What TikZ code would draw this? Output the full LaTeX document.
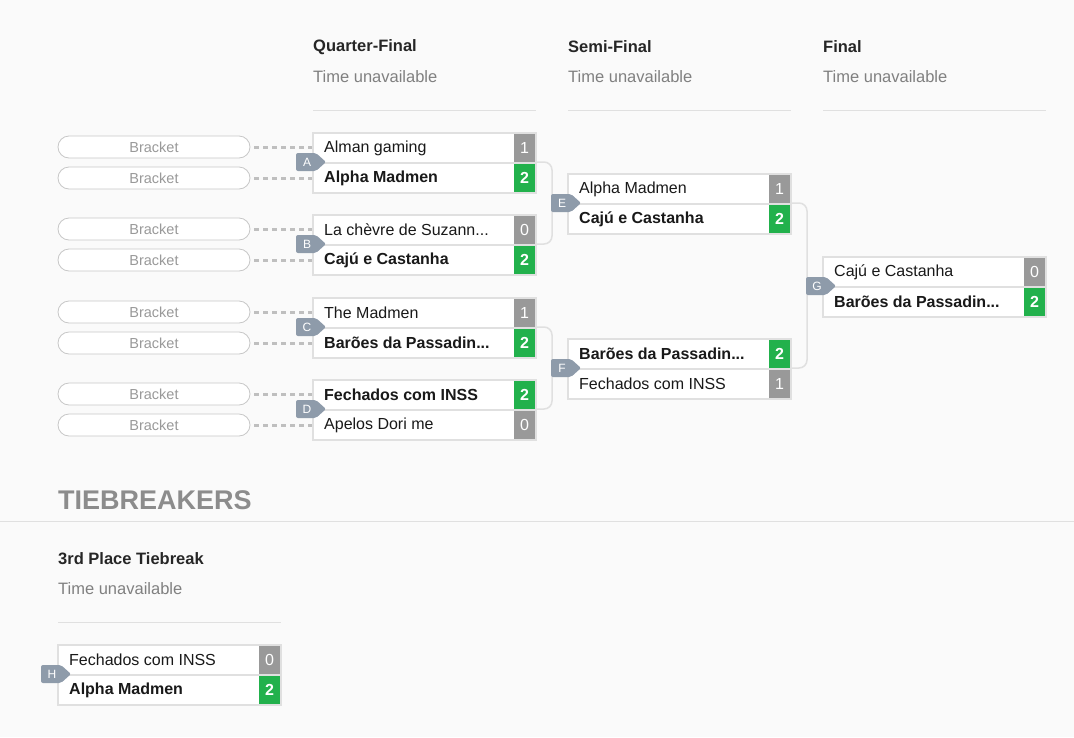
\documentclass[tikz,border=0pt]{standalone}
\usepackage{fontspec}
\setmainfont{Liberation Sans}
\begin{document}
\begin{tikzpicture}[x=1pt,y=-1pt,
  row/.style={draw=black!12,line width=1.5pt,fill=white},
  nm/.style={anchor=west,inner sep=0pt,text=black!90},
  sc/.style={anchor=center,inner sep=0pt,text=white},
  pill/.style={draw=black!22,fill=white,rounded corners=11pt,line width=0.8pt},
  pilltxt/.style={font=\fontsize{14.5}{16}\selectfont,text=black!40},
  dsh/.style={draw=black!25,line width=3pt,dash pattern=on 5pt off 4pt},
  conn/.style={draw=black!12,line width=1.5pt,rounded corners=8pt},
  tagtxt/.style={font=\fontsize{12}{14}\selectfont,text=white},
  hd/.style={anchor=west,inner sep=0pt,font=\bfseries\fontsize{16.5}{19}\selectfont,text=black!85},
  tu/.style={anchor=west,inner sep=0pt,font=\fontsize{16.5}{19}\selectfont,text=black!50}]
\fill[black!2] (0,0) rectangle (1074,737);
\useasboundingbox (0,0) rectangle (1074,737);
\definecolor{win}{HTML}{22B14C}\definecolor{los}{HTML}{999999}\definecolor{tagc}{HTML}{8E9BAA}
\newcommand\mrow[6]{%
  \draw[row] (#1,#2) rectangle ++(223,30);
  \node[nm,font=#6\fontsize{16}{18}\selectfont] (n#1-#2) at (#1+11,#2+15) {#3};
  \fill[#5] (#1+201,#2+1) rectangle (#1+222,#2+29);
  \node[sc,font=#6\fontsize{16}{18}\selectfont] (s#1-#2) at (#1+211.5,#2+15) {#4};}
\newcommand\tagl[3]{%
  \fill[tagc,rounded corners=2pt] (#1-11,#2-9) -- (#1+9,#2-9) -- (#1+19,#2) -- (#1+9,#2+9) -- (#1-11,#2+9) -- cycle;
  \node[tagtxt] (t#3) at (#1,#2) {#3};}
\foreach \x/\t in {313/Quarter-Final,568/Semi-Final,823/Final}{
  \node[hd] (h\x) at (\x,47) {\t};
  \node[tu] (u\x) at (\x,77) {Time unavailable};
  \draw[black!12,line width=1pt] (\x,110) -- (\x+223,110);}
\foreach \y in {147,178,229,260,312,343,394,425}{
  \draw[pill] (58,\y-11) rectangle (250,\y+11);
  \node[pilltxt] (p\y) at (154,\y) {Bracket};
  \draw[dsh] (254,\y) -- (313,\y);}
\draw[conn] (536,162) -- (552,162) -- (552,244) -- (536,244);
\draw[conn] (552,203) -- (568,203);
\draw[conn] (536,327) -- (552,327) -- (552,409) -- (536,409);
\draw[conn] (552,368) -- (568,368);
\draw[conn] (791,203) -- (807,203) -- (807,368) -- (791,368);
\draw[conn] (807,286) -- (823,286);
\mrow{313}{133}{Alman gaming}{1}{los}{}
\mrow{313}{163}{Alpha Madmen}{2}{win}{\bfseries}
\mrow{313}{215}{La chèvre de Suzann...}{0}{los}{}
\mrow{313}{245}{Cajú e Castanha}{2}{win}{\bfseries}
\mrow{313}{298}{The Madmen}{1}{los}{}
\mrow{313}{328}{Barões da Passadin...}{2}{win}{\bfseries}
\mrow{313}{380}{Fechados com INSS}{2}{win}{\bfseries}
\mrow{313}{410}{Apelos Dori me}{0}{los}{}
\mrow{568}{174}{Alpha Madmen}{1}{los}{}
\mrow{568}{204}{Cajú e Castanha}{2}{win}{\bfseries}
\mrow{568}{339}{Barões da Passadin...}{2}{win}{\bfseries}
\mrow{568}{369}{Fechados com INSS}{1}{los}{}
\mrow{823}{257}{Cajú e Castanha}{0}{los}{}
\mrow{823}{287}{Barões da Passadin...}{2}{win}{\bfseries}
\tagl{307}{162}{A}\tagl{307}{244}{B}\tagl{307}{327}{C}\tagl{307}{409}{D}
\tagl{562}{203}{E}\tagl{562}{368}{F}\tagl{817}{286}{G}
\node[anchor=west,inner sep=0pt,font=\bfseries\fontsize{27}{30}\selectfont,text=black!45] (tb) at (58,500) {TIEBREAKERS};
\draw[black!12,line width=1pt] (0,521) -- (1074,521);
\node[hd] (h3) at (58,559) {3rd Place Tiebreak};
\node[tu] (u3) at (58,589) {Time unavailable};
\draw[black!12,line width=1pt] (58,622) -- (281,622);
\mrow{58}{645}{Fechados com INSS}{0}{los}{}
\mrow{58}{675}{Alpha Madmen}{2}{win}{\bfseries}
\tagl{52}{674}{H}
\end{tikzpicture}
\end{document}
